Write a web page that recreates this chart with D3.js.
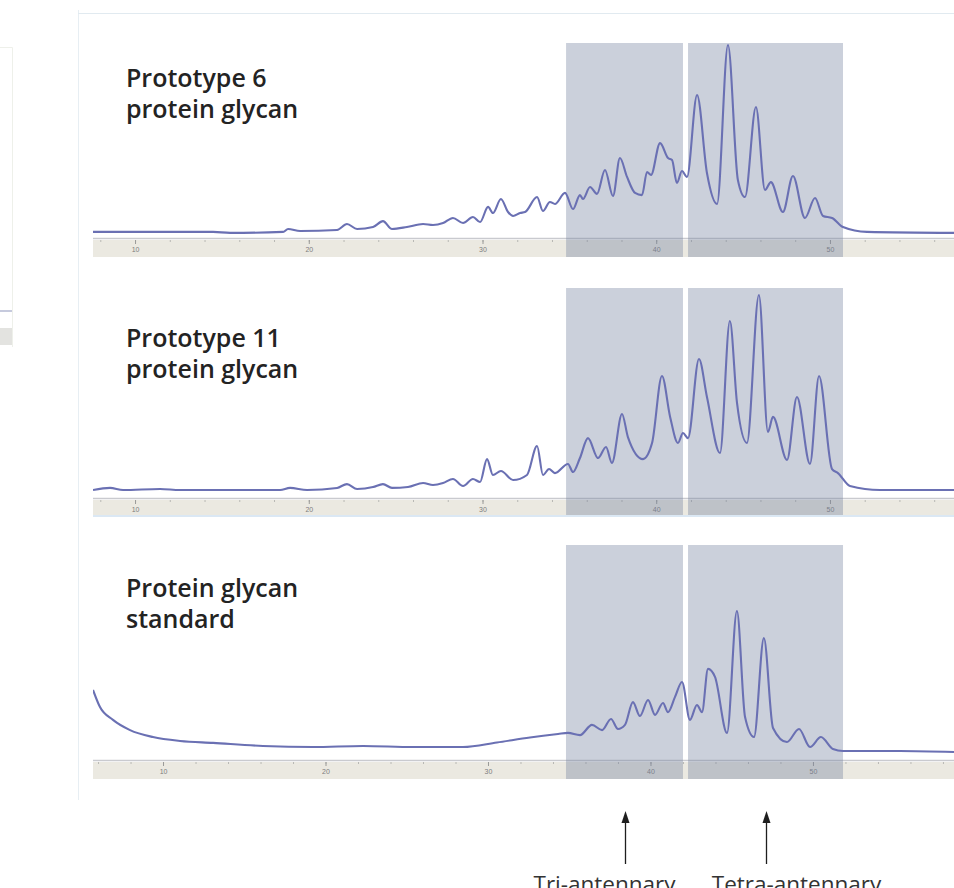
<!DOCTYPE html>
<html>
<head>
<meta charset="utf-8">
<script src="https://cdn.jsdelivr.net/npm/d3@7"></script>
<style>
  body { margin: 0; background: #fff; }
  svg { display: block; }
</style>
</head>
<body>
<div id="chart-area"></div>
<script>
// ---- data (retention time in min, detector signal in relative units 0-100) ----
const proto6Trace = [
  [7.58, 4.1], [14.49, 4.1], [15.47, 3.6], [18.52, 4.1], [18.81, 5.6], [19.50, 4.6],
  [21.63, 5.1], [22.20, 8.1], [22.78, 5.6], [23.70, 6.6], [24.27, 9.6], [24.79, 5.6],
  [25.65, 6.6], [26.58, 8.1], [27.15, 7.6], [27.73, 8.6], [28.30, 11.2], [28.88, 8.6],
  [29.45, 11.7], [29.86, 9.1], [30.32, 16.8], [30.60, 13.7], [31.06, 20.8], [31.47, 14.2],
  [31.76, 12.2], [32.16, 13.7], [32.45, 14.2], [33.14, 21.8], [33.48, 14.7], [33.88, 19.3],
  [34.17, 18.3], [34.75, 23.9], [35.21, 15.7], [35.61, 22.8], [35.78, 20.8], [36.19, 26.9],
  [36.59, 23.4], [37.05, 35.5], [37.51, 22.3], [37.91, 41.6], [38.32, 32.0], [38.78, 23.9],
  [39.18, 22.8], [39.47, 34.5], [39.70, 33.0], [40.22, 49.2], [40.68, 41.6], [40.91, 40.6],
  [41.19, 28.9], [41.48, 35.0], [41.77, 32.0], [42.35, 73.6], [42.92, 34.0], [43.50, 18.3],
  [44.13, 99.0], [44.70, 30.5], [45.11, 21.8], [45.74, 67.5], [46.26, 25.4], [46.60, 29.4],
  [47.29, 14.2], [47.87, 32.5], [48.56, 11.2], [49.14, 21.3], [49.60, 12.2], [50.12, 11.2],
  [50.75, 6.6], [52.13, 4.1], [57.14, 3.6]
]

const proto11Trace = [
  [7.58, 4.7], [8.56, 5.7], [9.31, 4.7], [11.44, 5.2], [12.59, 4.7], [18.35, 4.7],
  [18.92, 5.7], [19.90, 4.7], [21.63, 5.7], [22.20, 7.5], [22.78, 5.2], [23.70, 6.1],
  [24.27, 7.5], [24.79, 5.7], [25.71, 6.1], [26.58, 8.0], [27.15, 7.1], [27.73, 8.0],
  [28.30, 9.9], [28.88, 6.6], [29.45, 9.9], [29.86, 8.5], [30.26, 19.3], [30.60, 11.8],
  [31.06, 13.7], [31.76, 9.4], [32.56, 11.8], [33.14, 25.5], [33.48, 11.8], [33.83, 14.6],
  [34.17, 12.7], [34.92, 17.0], [35.21, 13.2], [35.61, 19.8], [36.07, 29.2], [36.65, 19.8],
  [37.11, 25.0], [37.45, 17.5], [38.03, 40.6], [38.37, 29.7], [39.24, 19.3], [39.76, 26.9],
  [40.33, 58.5], [40.80, 39.2], [41.25, 26.9], [41.54, 31.6], [41.83, 29.2], [42.46, 66.5],
  [42.92, 48.6], [43.67, 22.2], [44.24, 84.4], [44.65, 45.8], [45.22, 26.9], [45.91, 96.7],
  [46.43, 32.1], [46.72, 39.2], [47.53, 18.9], [48.10, 48.6], [48.85, 17.0], [49.37, 58.5],
  [50.12, 14.6], [50.46, 12.7], [51.15, 6.6], [52.88, 4.7], [57.14, 4.7]
]

const standardTrace = [
  [5.69, 33.2], [6.12, 25.3], [6.92, 19.4], [7.97, 14.7], [9.38, 11.5], [11.05, 9.7],
  [13.08, 8.8], [16.15, 7.4], [19.23, 6.9], [22.31, 7.4], [25.38, 6.9], [28.46, 6.9],
  [30.55, 9.0], [32.58, 11.3], [34.31, 12.9], [34.92, 13.4], [35.66, 12.4], [36.40, 17.1],
  [37.02, 14.7], [37.57, 19.8], [38.00, 15.2], [38.43, 17.1], [38.92, 27.6], [39.35, 21.2],
  [39.85, 28.6], [40.28, 21.7], [40.77, 27.2], [41.08, 23.0], [41.51, 30.0], [41.94, 36.9],
  [42.43, 19.4], [42.86, 26.3], [43.17, 23.0], [43.54, 42.9], [43.97, 39.2], [44.71, 13.4],
  [45.32, 69.6], [45.82, 20.7], [46.37, 11.5], [46.98, 57.1], [47.54, 15.7], [48.40, 9.2],
  [49.14, 15.2], [49.82, 6.9], [50.49, 11.5], [51.23, 6.0], [51.85, 5.1], [55.35, 5.1],
  [58.68, 4.6]
]

const panelTitles = [
  ["Prototype 6", "protein glycan"],
  ["Prototype 11", "protein glycan"],
  ["Protein glycan", "standard"]
]

// visible time window of each trace
const xDomainProto = [7.58, 57.14]
const xDomainStd = [5.69, 58.68]

// tri- / tetra-antennary collection windows, in each trace's time units
const bandsProto = [[34.81, 41.54], [41.83, 50.75]]
const bandsStd = [[34.80, 42.00], [42.31, 51.85]]

const tickLabels = [10, 20, 30, 40, 50]
const bandLabels = ["Tri-antennary", "Tetra-antennary"]

// ---- layout ----
const W = 954, H = 888
const PLOT = { LEFT: 93, RIGHT: 954 }

const panels = [
  { title: panelTitles[0], trace: proto6Trace, domain: xDomainProto, bands: bandsProto,
    top: 43, stripTop: 240, stripBottom: 257, titleY: 87 },
  { title: panelTitles[1], trace: proto11Trace, domain: xDomainProto, bands: bandsProto,
    top: 288, stripTop: 500, stripBottom: 515, titleY: 347 },
  { title: panelTitles[2], trace: standardTrace, domain: xDomainStd, bands: bandsStd,
    top: 545, stripTop: 762, stripBottom: 779, titleY: 597 }
]

const svg = d3.select("#chart-area").append("svg")
    .attr("width", W)
    .attr("height", H)

svg.append("defs").append("clipPath").attr("id", "plot-clip")
  .append("rect")
    .attr("x", PLOT.LEFT).attr("y", 0)
    .attr("width", PLOT.RIGHT - PLOT.LEFT).attr("height", H)

// faint leftovers of the screenshot frame
const frame = svg.append("g").attr("fill", "none")
frame.append("line").attr("x1", 78.5).attr("x2", 78.5).attr("y1", 10).attr("y2", 800)
    .attr("stroke", "#e7eef3")
frame.append("line").attr("x1", 78).attr("x2", W).attr("y1", 13.5).attr("y2", 13.5)
    .attr("stroke", "#e1eaf0")
frame.append("path").attr("d", "M0,47.5 H12.5 V347").attr("stroke", "#eef0ea")
frame.append("line").attr("x1", 0).attr("x2", 12).attr("y1", 311).attr("y2", 311)
    .attr("stroke", "#b3b9d2").attr("stroke-width", 1.5)
frame.append("rect").attr("x", 0).attr("y", 328).attr("width", 12).attr("height", 17)
    .attr("fill", "#e3e3e0")

panels.forEach(p => {
  const x = d3.scaleLinear().domain(p.domain).range([PLOT.LEFT, PLOT.RIGHT])
  const y = d3.scaleLinear().domain([0, 100]).range([p.stripTop, p.top])

  const g = svg.append("g").attr("clip-path", "url(#plot-clip)")

  // axis strip
  g.append("rect")
      .attr("x", PLOT.LEFT).attr("y", p.stripTop)
      .attr("width", PLOT.RIGHT - PLOT.LEFT).attr("height", p.stripBottom - p.stripTop)
      .attr("fill", "#ebe9e1")
  g.append("line")
      .attr("x1", PLOT.LEFT).attr("x2", PLOT.RIGHT)
      .attr("y1", p.stripTop - 1.5).attr("y2", p.stripTop - 1.5)
      .attr("stroke", "#c9cacf").attr("stroke-width", 1.5)

  // minor ticks
  g.append("g")
      .attr("transform", `translate(0, ${p.stripTop})`)
      .call(d3.axisBottom(x).ticks(25).tickSize(2).tickFormat(""))
      .call(a => a.select(".domain").remove())
      .call(a => a.selectAll("line").attr("stroke", "#b8b8b4"))

  // major ticks + labels
  g.append("g")
      .attr("transform", `translate(0, ${p.stripTop})`)
      .call(d3.axisBottom(x).tickValues(tickLabels).tickSize(4).tickPadding(3))
      .call(a => a.select(".domain").remove())
      .call(a => a.selectAll("line").attr("stroke", "#9a9a98"))
      .call(a => a.selectAll("text")
          .attr("font-family", "Liberation Sans, Arial, sans-serif")
          .attr("font-size", "7px")
          .attr("fill", "#7d7d7d"))

  // shaded windows
  g.selectAll("rect.band")
    .data(p.bands)
    .enter().append("rect")
      .attr("class", "band")
      .attr("x", d => x(d[0]))
      .attr("width", d => x(d[1]) - x(d[0]))
      .attr("y", p.top)
      .attr("height", p.stripBottom - p.top)
      .attr("fill", "rgb(118,132,160)")
      .attr("fill-opacity", 0.38)

  // chromatogram trace
  const line = d3.line()
      .x(d => x(d[0]))
      .y(d => y(d[1]))
      .curve(d3.curveMonotoneX)

  g.append("path")
      .datum(p.trace)
      .attr("d", line)
      .attr("fill", "none")
      .attr("stroke", "#6a70b3")
      .attr("stroke-width", 2.1)
      .attr("stroke-linejoin", "round")

  // title, two lines
  p.title.forEach((s, i) => {
    svg.append("text")
        .attr("x", 126)
        .attr("y", p.titleY + i * 31)
        .attr("font-family", "Open Sans, sans-serif")
        .attr("font-weight", 600)
        .attr("font-size", "25px")
        .attr("fill", "#232323")
        .text(s)
  })
})

// panel 2 bottom rule
svg.append("line")
    .attr("x1", PLOT.LEFT).attr("x2", PLOT.RIGHT)
    .attr("y1", 516).attr("y2", 516)
    .attr("stroke", "#cfe0f0").attr("stroke-width", 1.5)

// arrows pointing up at the centre of each window
const xRef = d3.scaleLinear().domain(xDomainProto).range([PLOT.LEFT, PLOT.RIGHT])
const labelShift = [-21, 30]
const ann = svg.append("g")
bandsProto.forEach((b, i) => {
  const cx = Math.round(xRef((b[0] + b[1]) / 2)) + 0.5
  ann.append("line")
      .attr("x1", cx).attr("x2", cx)
      .attr("y1", 864).attr("y2", 820)
      .attr("stroke", "#1e1e1e").attr("stroke-width", 1.3)
  ann.append("path")
      .attr("d", `M${cx - 4},${823} L${cx},${811} L${cx + 4},${823} Z`)
      .attr("fill", "#1e1e1e")
  ann.append("text")
      .attr("x", cx + labelShift[i])
      .attr("y", 892)
      .attr("text-anchor", "middle")
      .attr("font-family", "Open Sans, sans-serif")
      .attr("font-size", "22.5px")
      .attr("fill", "#333")
      .text(bandLabels[i])
})
</script>
</body>
</html>
